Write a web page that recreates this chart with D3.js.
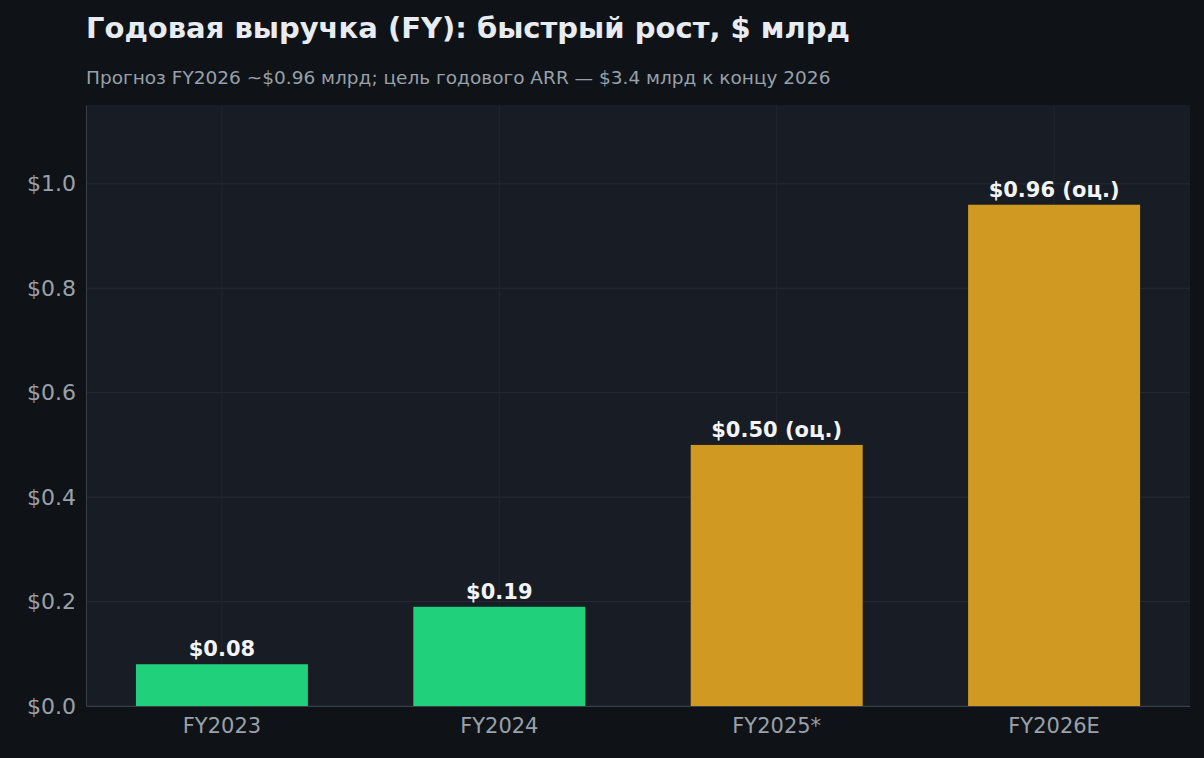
<!DOCTYPE html>
<html><head><meta charset="utf-8">
<script src="https://cdn.jsdelivr.net/npm/d3@7"></script>
<style>body{margin:0;background:#0f1317}</style></head>
<body><svg id="c" width="1204" height="758"></svg>
<script>
const categories=["FY2023","FY2024","FY2025*","FY2026E"];
const values=[0.08,0.19,0.50,0.96];
const labels=["$0.08","$0.19","$0.50 (оц.)","$0.96 (оц.)"];
const estimated=[false,false,true,true];
const yTicks=[0,0.2,0.4,0.6,0.8,1.0];
const svg=d3.select("#c"),F="DejaVu Sans, sans-serif";
svg.append("rect").attr("width",1204).attr("height",758).attr("fill","#0f1317");
const L=86,R=1190,T=105,B=706;
svg.append("rect").attr("x",L).attr("y",T).attr("width",R-L).attr("height",B-T).attr("fill","#181c24");
const x=d3.scaleBand().domain(categories).range([L,R]).paddingInner(0.38).paddingOuter(0.18);
const y=d3.scaleLinear().domain([0,1.151]).range([B,T]);
const g=svg.append("g");
yTicks.forEach(t=>g.append("line").attr("x1",L).attr("x2",R).attr("y1",y(t)).attr("y2",y(t)).attr("stroke","#262b34").attr("stroke-width",1));
categories.forEach(c=>g.append("line").attr("x1",x(c)+x.bandwidth()/2).attr("x2",x(c)+x.bandwidth()/2).attr("y1",T).attr("y2",B).attr("stroke","#22262e").attr("stroke-width",1));
svg.selectAll(".bar").data(values).enter().append("rect")
 .attr("x",(d,i)=>x(categories[i])).attr("width",x.bandwidth())
 .attr("y",d=>y(d)).attr("height",d=>B-y(d))
 .attr("fill",(d,i)=>estimated[i]?"#d09a22":"#21d07a");
svg.selectAll(".vl").data(values).enter().append("text")
 .attr("x",(d,i)=>x(categories[i])+x.bandwidth()/2).attr("y",d=>y(d)-8)
 .attr("text-anchor","middle").attr("font-family",F).attr("font-weight","bold").attr("font-size",21)
 .attr("fill","#f2f4f6").text((d,i)=>labels[i]);
const ya=svg.append("g").attr("transform",`translate(${L},0)`).call(d3.axisLeft(y).tickValues(yTicks).tickFormat(d=>"$"+d.toFixed(1)).tickSize(0).tickPadding(10));
const xa=svg.append("g").attr("transform",`translate(0,${B})`).call(d3.axisBottom(x).tickSize(0).tickPadding(12));
[ya,xa].forEach(a=>{a.selectAll("text").attr("font-family",F).attr("font-size",21).attr("fill","#9aa1ab");a.select(".domain").attr("stroke","#3a3f47");});
ya.selectAll("text").attr("font-size",22);
svg.append("text").attr("x",86).attr("y",38).attr("font-family",F).attr("font-weight","bold").attr("font-size",29).attr("fill","#e8ecf0").text("Годовая выручка (FY): быстрый рост, $ млрд");
svg.append("text").attr("x",86).attr("y",84).attr("font-family",F).attr("font-size",18.5).attr("fill","#98a0aa").text("Прогноз FY2026 ~$0.96 млрд; цель годового ARR — $3.4 млрд к концу 2026");
</script></body></html>
